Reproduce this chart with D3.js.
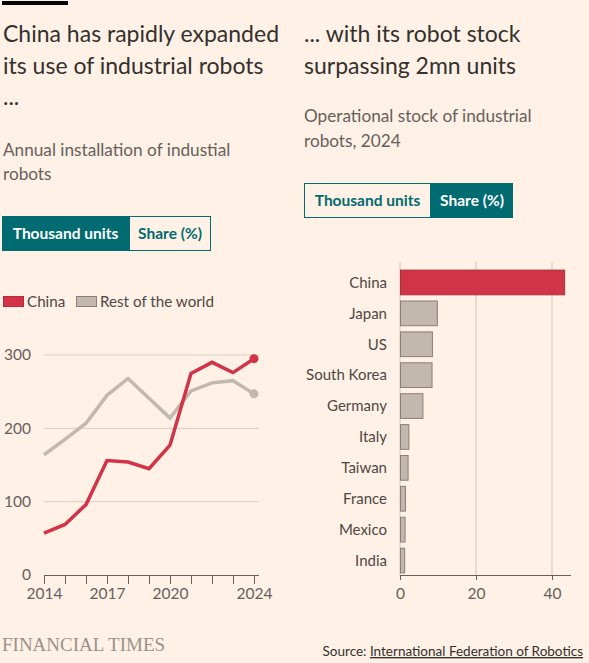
<!DOCTYPE html>
<html>
<head>
<meta charset="utf-8">
<script src="https://cdn.jsdelivr.net/npm/d3@7"></script>
<style>
  body { margin: 0; background: #fff1e5; }
  svg { display: block; font-family: Lato, "Open Sans", sans-serif; }
</style>
</head>
<body>
<svg id="chart" width="589" height="663"></svg>
<script>
// annual installations, thousand units
var years = [2014, 2015, 2016, 2017, 2018, 2019, 2020, 2021, 2022, 2023, 2024];
var chinaInstalls = [57, 69, 96, 156, 154, 145, 177, 275, 290, 276, 295];
var restInstalls = [164, 185, 207, 245, 268, 241, 214, 251, 262, 265, 247];
var yTicks = [0, 100, 200, 300];
var xTickLabels = [2014, 2017, 2020, 2024];

// operational stock 2024, share (%)
var countries = ["China", "Japan", "US", "South Korea", "Germany", "Italy", "Taiwan", "France", "Mexico", "India"];
var stockShare = [43.2, 9.7, 8.4, 8.3, 5.9, 2.2, 2.0, 1.3, 1.2, 1.1];
var shareTicks = [0, 20, 40];

var red = "#d13447";
var grey = "#c2b8ae";
var teal = "#006b70";
var ink = "#33302e";
var soft = "#66605c";

var w = 589;
var h = 663;
var svg = d3.select("#chart");

svg.append("rect").attr("width", w).attr("height", h).attr("fill", "#fff1e5");
svg.append("rect").attr("x", 2).attr("y", 1).attr("width", 66).attr("height", 4).attr("fill", "#000");

function lines(x, ys, texts, size, color) {
    texts.forEach(function (t, i) {
        svg.append("text")
            .attr("x", x)
            .attr("y", ys[i])
            .attr("font-size", size)
            .attr("fill", color)
            .text(t);
    });
}

// titles
lines(3, [42, 74, 105], ["China has rapidly expanded", "its use of industrial robots", "..."], 23, ink);
lines(304, [42, 74], ["... with its robot stock", "surpassing 2mn units"], 23, ink);
lines(3, [156, 180], ["Annual installation of industial", "robots"], 17.2, soft);
lines(304, [122, 147], ["Operational stock of industrial", "robots, 2024"], 17.2, soft);

// toggle buttons
function toggle(x, y, active) {
    var labels = ["Thousand units", "Share (%)"];
    var widths = [127, 82];
    var offs = [0, 127];
    labels.forEach(function (lab, i) {
        var on = i === active;
        svg.append("rect")
            .attr("x", x + offs[i] + 0.5)
            .attr("y", y + 0.5)
            .attr("width", widths[i] - 1)
            .attr("height", 34)
            .attr("fill", on ? teal : "#fff1e5")
            .attr("stroke", teal)
            .attr("stroke-width", 1);
        svg.append("text")
            .attr("x", x + offs[i] + widths[i] / 2)
            .attr("y", y + 23)
            .attr("text-anchor", "middle")
            .attr("font-size", 15.5)
            .attr("font-weight", 700)
            .attr("fill", on ? "#fff" : teal)
            .text(lab);
    });
}
toggle(2, 216, 0);
toggle(304, 183, 1);

// ---- left: line chart ----
var x = d3.scaleLinear().domain([2014, 2024]).range([44, 254]);
var y = d3.scaleLinear().domain([0, 300]).range([575, 355]);

var left = svg.append("g");

left.selectAll(".grid")
    .data(yTicks.filter(function (d) { return d > 0; }))
    .enter()
    .append("line")
    .attr("x1", 44)
    .attr("x2", 259)
    .attr("y1", function (d) { return y(d); })
    .attr("y2", function (d) { return y(d); })
    .attr("stroke", "#d9cdc2")
    .attr("stroke-width", 1);

left.selectAll(".ylab")
    .data(yTicks)
    .enter()
    .append("text")
    .attr("x", 31)
    .attr("y", function (d) { return y(d); })
    .attr("dy", "0.35em")
    .attr("text-anchor", "end")
    .attr("font-size", 15.5)
    .attr("fill", soft)
    .text(function (d) { return d; });

var xAxis = d3.axisBottom(x)
    .tickValues(years)
    .tickSize(9)
    .tickFormat(function (d) { return xTickLabels.indexOf(d) >= 0 ? d : ""; });

var gx = left.append("g")
    .attr("transform", "translate(0,575)")
    .call(xAxis);
gx.select(".domain").attr("d", "M44,0.5H259").attr("stroke", "#66605c");
gx.selectAll(".tick line").attr("stroke", "#66605c");
gx.selectAll(".tick text")
    .attr("font-family", "Lato, sans-serif")
    .attr("font-size", 15.5)
    .attr("fill", soft)
    .attr("y", 13);

var line = d3.line()
    .x(function (d, i) { return x(years[i]); })
    .y(function (d) { return y(d); });

[[restInstalls, grey], [chinaInstalls, red]].forEach(function (s) {
    left.append("path")
        .datum(s[0])
        .attr("d", line)
        .attr("fill", "none")
        .attr("stroke", s[1])
        .attr("stroke-width", 3.5)
        .attr("stroke-linejoin", "miter");
    left.append("circle")
        .attr("cx", x(years[years.length - 1]))
        .attr("cy", y(s[0][s[0].length - 1]))
        .attr("r", 4.5)
        .attr("fill", s[1]);
});

// legend
var legend = [["China", red, "#b82a3b"], ["Rest of the world", grey, "#8a7f77"]];
var lx = [3, 76];
legend.forEach(function (l, i) {
    svg.append("rect")
        .attr("x", lx[i] + 0.5)
        .attr("y", 296.5)
        .attr("width", 20)
        .attr("height", 10)
        .attr("fill", l[1])
        .attr("stroke", l[2]);
    svg.append("text")
        .attr("x", lx[i] + 24)
        .attr("y", 307)
        .attr("font-size", 15.2)
        .attr("fill", "#4d4845")
        .text(l[0]);
});

// ---- right: bar chart ----
var xb = d3.scaleLinear().domain([0, 40]).range([400, 552]);
var yb = d3.scaleBand().domain(countries).range([267, 576]).paddingInner(0.2).paddingOuter(0.1);

var right = svg.append("g");

right.selectAll(".vgrid")
    .data(shareTicks)
    .enter()
    .append("line")
    .attr("x1", function (d) { return xb(d); })
    .attr("x2", function (d) { return xb(d); })
    .attr("y1", 262)
    .attr("y2", 575)
    .attr("stroke", "#cfc3b8")
    .attr("stroke-width", 1);

right.selectAll(".bar")
    .data(stockShare)
    .enter()
    .append("rect")
    .attr("x", xb(0) + 0.5)
    .attr("y", function (d, i) { return yb(countries[i]); })
    .attr("width", function (d) { return xb(d) - xb(0); })
    .attr("height", yb.bandwidth())
    .attr("fill", function (d, i) { return i === 0 ? red : grey; })
    .attr("stroke", function (d, i) { return i === 0 ? "#a8323f" : "#8a7f77"; })
    .attr("stroke-width", 1);

right.selectAll(".clab")
    .data(countries)
    .enter()
    .append("text")
    .attr("x", 387)
    .attr("y", function (d) { return yb(d) + yb.bandwidth() / 2; })
    .attr("dy", "0.35em")
    .attr("text-anchor", "end")
    .attr("font-size", 15)
    .attr("fill", "#4d4845")
    .text(function (d) { return d; });

var bAxis = d3.axisBottom(xb).tickValues(shareTicks).tickSize(5);
var gb = right.append("g")
    .attr("transform", "translate(0,575)")
    .call(bAxis);
gb.select(".domain").attr("d", "M400,0.5H571").attr("stroke", "#66605c");
gb.selectAll(".tick line").attr("stroke", "#66605c");
gb.selectAll(".tick text")
    .attr("font-family", "Lato, sans-serif")
    .attr("font-size", 15.5)
    .attr("fill", soft)
    .attr("y", 13);

// footer
svg.append("text")
    .attr("x", 2)
    .attr("y", 651)
    .attr("font-family", "Liberation Serif, serif")
    .attr("font-size", 19)
    .attr("fill", "#9b918a")
    .text("FINANCIAL TIMES");

var src = svg.append("text")
    .attr("x", 583)
    .attr("y", 656)
    .attr("text-anchor", "end")
    .attr("font-size", 13.5)
    .attr("fill", ink);
src.append("tspan").text("Source: ");
src.append("tspan").attr("text-decoration", "underline").text("International Federation of Robotics");
</script>
</body>
</html>
